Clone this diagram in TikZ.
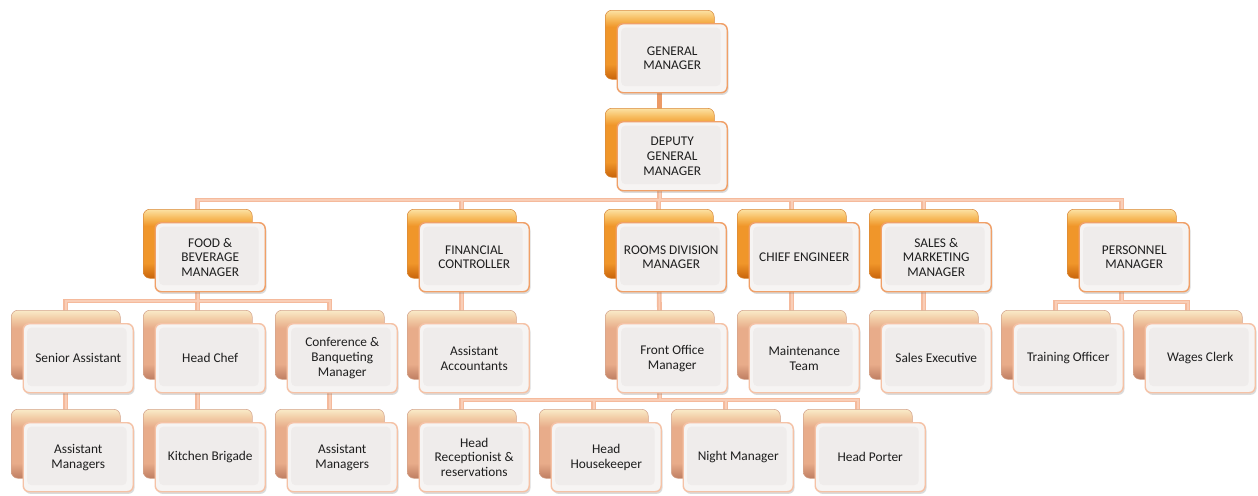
\documentclass[tikz,border=0pt]{standalone}
\usepackage{fontspec}
\setmainfont{Carlito}
\usetikzlibrary{shadows,backgrounds}

% palette
\definecolor{obDark}{HTML}{C9640A}
\definecolor{obMain}{HTML}{F0962A}
\definecolor{obLight}{HTML}{F7BC5E}
\definecolor{obHi}{HTML}{FCE2A4}
\definecolor{obEdge}{HTML}{D98A3C}
\definecolor{pbDark}{HTML}{BF7E62}
\definecolor{pbMain}{HTML}{E8AC8A}
\definecolor{pbLight}{HTML}{F2CCA6}
\definecolor{pbHi}{HTML}{FAEBC8}
\definecolor{pbEdge}{HTML}{D4A48C}
\definecolor{frontFill}{HTML}{F6F4F3}
\definecolor{frontInner}{HTML}{EFECEB}
\definecolor{frontEdgeA}{HTML}{F0A068}
\definecolor{frontEdgeB}{HTML}{F5C2A6}
\definecolor{linkOut}{HTML}{F5BA9C}
\definecolor{linkIn}{HTML}{F9CEB7}
\definecolor{linkTop}{HTML}{EC9A66}
\definecolor{ink}{HTML}{1E1E1E}

% the node's box is mapped onto 25bp..75bp of these shadings
\pgfdeclareverticalshading{orangeback}{100bp}{color(0bp)=(obDark); color(25bp)=(obDark); color(36bp)=(obMain); color(63bp)=(obMain); color(69bp)=(obLight); color(75bp)=(obHi); color(100bp)=(obHi)}
\pgfdeclareverticalshading{peachback}{100bp}{color(0bp)=(pbDark); color(25bp)=(pbDark); color(36bp)=(pbMain); color(62bp)=(pbMain); color(69bp)=(pbLight); color(75bp)=(pbHi); color(100bp)=(pbHi)}

% one chart entry: back plate #1-b and front card #1
\newcommand\orgbox[5]{%
  \node[back#4] (#1-b) at (#2,#3) {};
  \node[front#4] (#1) at (#2+11.5,#3+13) {#5};
}

\begin{document}
\begin{tikzpicture}[x=0.75pt,y=-0.75pt,
  font=\fontsize{10}{11}\selectfont, text=ink,
  back/.style={anchor=north west, minimum width=81.75pt, minimum height=51.75pt,
    rounded corners=5pt, inner sep=0pt, shade, line width=0.4pt},
  backA/.style={back, shading=orangeback, draw=obEdge},
  backB/.style={back, shading=peachback, draw=pbEdge},
  front/.style={anchor=north west, minimum width=82.5pt, minimum height=51.75pt,
    rounded corners=4.5pt, inner sep=2pt, align=center, fill=frontFill, line width=1.1pt,
    drop shadow={opacity=0.28, shadow xshift=1pt, shadow yshift=-1.6pt},
    path picture={\fill[frontInner, rounded corners=3pt]
      ([shift={(3pt,-3pt)}]path picture bounding box.north west) rectangle
      ([shift={(-5pt,5pt)}]path picture bounding box.south east);}},
  frontA/.style={front, draw=frontEdgeA},
  frontB/.style={front, draw=frontEdgeB},
  linkout/.style={draw=linkOut, line width=3.6pt},
  linkin/.style={draw=linkIn, line width=1.2pt},
]
\useasboundingbox (0,0) rectangle (1258,496);
\begin{scope}[on background layer]
  \fill[white] (0,0) rectangle (1258,496);
\end{scope}

% level 0 and 1
\orgbox{gm}{605}{10}{A}{GENERAL\\MANAGER}
\orgbox{dgm}{605}{108}{A}{DEPUTY\\GENERAL\\MANAGER}

% level 2
\orgbox{fb}{143}{209}{A}{FOOD \&\\BEVERAGE\\MANAGER}
\orgbox{fc}{407}{209}{A}{FINANCIAL\\CONTROLLER}
\orgbox{rd}{604}{209}{A}{ROOMS DIVISION\\MANAGER}
\orgbox{ce}{737}{209}{A}{CHIEF ENGINEER}
\orgbox{sm}{869}{209}{A}{SALES \&\\MARKETING\\MANAGER}
\orgbox{pm}{1067}{209}{A}{PERSONNEL\\MANAGER}

% level 3
\orgbox{sa}{11}{310}{B}{Senior Assistant}
\orgbox{hc}{143}{310}{B}{Head Chef}
\orgbox{cb}{275}{310}{B}{Conference \&\\Banqueting\\Manager}
\orgbox{aa}{407}{310}{B}{Assistant\\Accountants}
\orgbox{fo}{605}{310}{B}{Front Office\\Manager}
\orgbox{mt}{737}{310}{B}{Maintenance\\Team}
\orgbox{se}{869}{310}{B}{Sales Executive}
\orgbox{to}{1001}{310}{B}{Training Officer}
\orgbox{wc}{1133}{310}{B}{Wages Clerk}

% level 4
\orgbox{am1}{11}{409}{B}{Assistant\\Managers}
\orgbox{kb}{143}{409}{B}{Kitchen Brigade}
\orgbox{am2}{275}{409}{B}{Assistant\\Managers}
\orgbox{hr}{407}{409}{B}{Head\\Receptionist \&\\reservations}
\orgbox{hh}{539}{409}{B}{Head\\Housekeeper}
\orgbox{nm}{671}{409}{B}{Night Manager}
\orgbox{hp}{803}{409}{B}{Head Porter}

% bus levels of the elbow connectors
\coordinate (busD) at (0,200);
\coordinate (busF) at (0,301);
\coordinate (busP) at (0,302);
\coordinate (busO) at (0,400);

\newcommand\links[1]{%
  \foreach \c in {fb,fc,rd,ce,sm,pm}
    \draw[#1] (dgm-b.center) |- (\c-b.center |- busD) -- (\c-b.center);
  \foreach \c in {sa,hc,cb}
    \draw[#1] (fb-b.center) |- (\c-b.center |- busF) -- (\c-b.center);
  \foreach \c in {to,wc}
    \draw[#1] (pm-b.center) |- (\c-b.center |- busP) -- (\c-b.center);
  \foreach \c in {hr,hh,nm,hp}
    \draw[#1] (fo-b.center) |- (\c-b.center |- busO) -- (\c-b.center);
  \draw[#1] (fc-b.center) -- (aa-b.center);
  \draw[#1] (rd-b.center) -- (fo-b.center);
  \draw[#1] (ce-b.center) -- (mt-b.center);
  \draw[#1] (sm-b.center) -- (se-b.center);
  \draw[#1] (sa-b.center) -- (am1-b.center);
  \draw[#1] (hc-b.center) -- (kb-b.center);
  \draw[#1] (cb-b.center) -- (am2-b.center);
}

\begin{scope}[on background layer]
  \draw[linkout, draw=linkTop] (gm-b.center) -- (dgm-b.center);
  \links{linkout}
  \links{linkin}
\end{scope}
\end{tikzpicture}
\end{document}
